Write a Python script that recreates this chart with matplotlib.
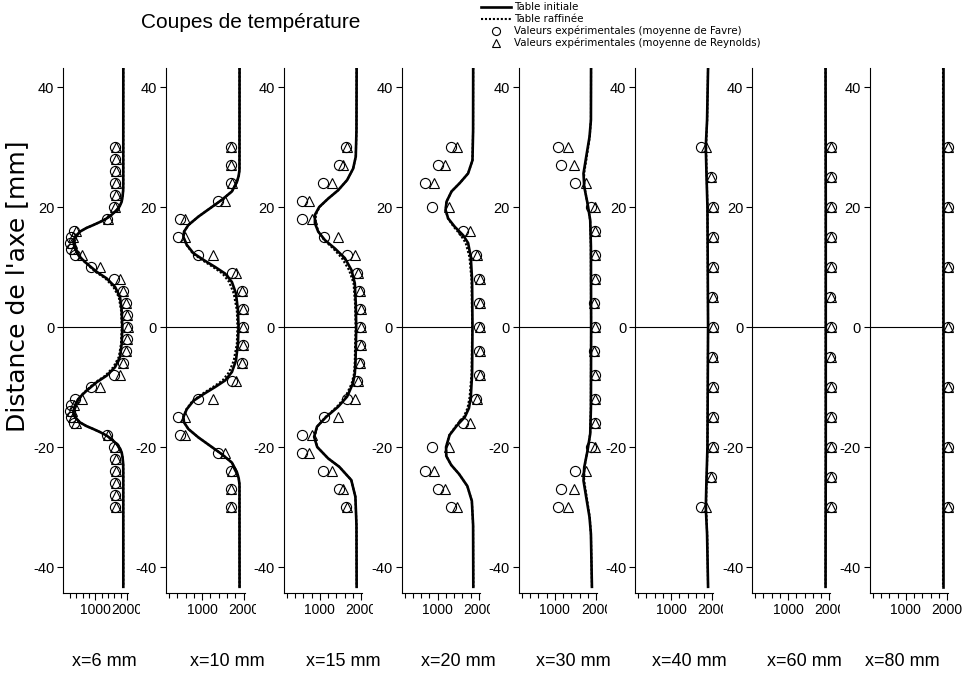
import matplotlib
matplotlib.use("Agg")
import matplotlib.pyplot as plt
from matplotlib.lines import Line2D
from matplotlib.transforms import Bbox, TransformedBbox

plt.rcParams['font.family'] = ['Liberation Sans', 'DejaVu Sans']
plt.rcParams['axes.unicode_minus'] = False

# ---------------------------------------------------------------------
# données (T en K, y en mm)
# ---------------------------------------------------------------------
PANEL_LABELS = ["x=6 mm", "x=10 mm", "x=15 mm", "x=20 mm",
                "x=30 mm", "x=40 mm", "x=60 mm", "x=80 mm"]

# x = 6 mm
Y1 = [43.2, 24.0, 22.8, 21.8, 20.9, 20.2, 19.5, 18.8, 18.1, 17.5, 17.0, 16.5, 15.9, 15.0, 14.2,
      13.1, 12.0, 11.3, 10.6, 9.9, 9.2, 8.1, 6.7, 5.0, 2.8, 0.0,
      -2.8, -5.0, -6.7, -8.1, -9.2, -9.9, -10.6, -11.3, -12.0, -13.1, -14.2, -15.0, -15.9,
      -16.5, -17.0, -17.5, -18.1, -18.8, -19.5, -20.2, -20.9, -21.8, -22.8, -24.0, -43.3]
T1_INIT = [1888, 1887, 1884, 1866, 1837, 1780, 1680, 1540, 1364, 1150, 941, 720, 521, 363, 310,
           363, 468, 590, 732, 890, 1048, 1364, 1626, 1784, 1837, 1857,
           1837, 1784, 1626, 1364, 1048, 890, 732, 590, 468, 363, 310, 363, 521,
           720, 941, 1150, 1364, 1540, 1680, 1780, 1837, 1866, 1884, 1887, 1888]
T1_RAFF = [1888, 1887, 1884, 1866, 1837, 1780, 1680, 1540, 1364, 1150, 941, 720, 521, 363, 310,
           363, 460, 575, 712, 860, 1010, 1320, 1570, 1745, 1815, 1840,
           1815, 1745, 1570, 1320, 1010, 860, 712, 575, 460, 363, 310, 363, 521,
           720, 941, 1150, 1364, 1540, 1680, 1780, 1837, 1866, 1884, 1887, 1888]

# x = 10 mm
Y2 = [43.2, 26.2, 25.2, 24.2, 22.6, 21.2, 19.8, 18.4, 17.0, 15.9, 15.0, 13.7, 12.3, 11.2, 10.0,
      8.9, 7.5, 5.6, 2.8, 0.0,
      -2.8, -5.6, -7.5, -8.9, -10.0, -11.2, -12.3, -13.7, -15.0, -15.9, -17.0, -18.4, -19.8,
      -21.2, -22.6, -24.2, -25.2, -26.2, -43.3]
T2_INIT = [1901, 1899, 1880, 1838, 1717, 1475, 1193, 910, 669, 565, 549, 630, 790, 1031, 1314,
           1555, 1717, 1814, 1862, 1876,
           1862, 1814, 1717, 1555, 1314, 1031, 790, 630, 549, 565, 669, 910, 1193,
           1475, 1717, 1838, 1880, 1899, 1901]
T2_RAFF = [1901, 1899, 1880, 1838, 1717, 1475, 1193, 910, 669, 565, 549, 620, 770, 990, 1260,
           1490, 1650, 1760, 1835, 1850,
           1835, 1760, 1650, 1490, 1260, 990, 770, 620, 549, 565, 669, 910, 1193,
           1475, 1717, 1838, 1880, 1899, 1901]

# x = 15 mm
Y3 = [43.2, 32.8, 28.4, 26.4, 24.5, 22.8, 21.4, 20.0, 18.7, 17.3, 15.9, 14.5, 13.1, 11.5, 9.5,
      7.3, 4.0, 0.0,
      -4.0, -6.0, -7.8, -9.4, -11.6, -13.3, -15.0, -16.6, -18.3, -20.0, -21.9, -23.3, -25.5,
      -28.3, -33.0, -43.3]
T3_INIT = [1890, 1886, 1869, 1805, 1660, 1442, 1200, 983, 879, 879, 959, 1120, 1362, 1603, 1765,
           1845, 1869, 1880,
           1869, 1862, 1845, 1800, 1660, 1440, 1150, 930, 860, 935, 1200, 1470, 1760,
           1860, 1886, 1890]
T3_RAFF = [1890, 1886, 1869, 1805, 1660, 1442, 1200, 990, 900, 900, 965, 1100, 1320, 1530, 1705,
           1815, 1850, 1865,
           1850, 1845, 1825, 1770, 1620, 1410, 1135, 935, 870, 935, 1200, 1470, 1760,
           1860, 1886, 1890]

# x = 20 mm
Y4 = [43.2, 32.8, 27.8, 25.6, 24.0, 22.6, 20.9, 19.5, 18.1, 16.7, 15.3, 14.0, 11.7, 7.8, 0.0,
      -7.8, -11.7, -13.5, -15.0, -16.4, -18.0, -20.0, -21.5, -23.0, -24.5, -26.5, -29.0,
      -33.0, -43.3]
T4_INIT = [1862, 1860, 1845, 1739, 1538, 1338, 1217, 1193, 1256, 1417, 1618, 1739, 1804, 1836, 1845,
           1836, 1804, 1760, 1660, 1470, 1290, 1205, 1210, 1330, 1520, 1720, 1830,
           1860, 1865]
T4_RAFF = [1862, 1860, 1845, 1739, 1538, 1338, 1217, 1193, 1250, 1390, 1560, 1680, 1770, 1822, 1838,
           1822, 1775, 1725, 1630, 1450, 1285, 1205, 1210, 1330, 1520, 1720, 1830,
           1860, 1865]

# x = 30 mm
Y5 = [43.2, 34.5, 31.7, 28.4, 25.6, 23.4, 20.6, 17.8, 13.4, 0.0,
      -13.4, -17.8, -20.6, -23.4, -25.6, -28.4, -31.7, -34.5, -43.3]
T5_INIT = [1872, 1869, 1835, 1756, 1690, 1707, 1787, 1852, 1869, 1874,
           1869, 1852, 1787, 1707, 1690, 1756, 1835, 1869, 1893]
T5_RAFF = [1872, 1869, 1840, 1770, 1705, 1712, 1787, 1850, 1866, 1872,
           1866, 1850, 1787, 1712, 1705, 1770, 1840, 1869, 1893]

# x = 40 mm
Y6 = [43.2, 34.5, 30.1, 25.6, 20.0, 0.0, -20.0, -25.6, -30.1, -34.5, -43.3]
T6_INIT = [1893, 1869, 1838, 1854, 1878, 1893, 1878, 1854, 1838, 1869, 1893]
T6_RAFF = [1893, 1872, 1845, 1858, 1880, 1893, 1880, 1858, 1845, 1872, 1893]

# x = 60 mm
Y7 = [43.2, 20.0, 0.0, -20.0, -43.3]
T7_INIT = [1905, 1910, 1910, 1910, 1905]
T7_RAFF = [1905, 1910, 1910, 1910, 1905]

# x = 80 mm
Y8 = [43.2, 0.0, -43.3]
T8_INIT = [1900, 1900, 1900]
T8_RAFF = [1900, 1900, 1900]

# valeurs expérimentales
EY1 = [30, 28, 26, 24, 22, 20, 18, 16, 15, 14, 13, 12, 10, 8, 6, 4, 2, 0,
       -2, -4, -6, -8, -10, -12, -13, -14, -15, -16, -18, -20, -22, -24, -26, -28, -30]
FAVRE1 = [1626, 1626, 1626, 1626, 1626, 1595, 1364, 330, 250, 200, 240, 363, 859, 1595, 1869, 1973, 2015, 2015,
          2015, 1973, 1869, 1595, 859, 363, 240, 200, 250, 330, 1364, 1595, 1626, 1626, 1626, 1626, 1626]
REYN1 = [1648, 1648, 1648, 1648, 1648, 1626, 1415, 380, 300, 268, 332, 575, 1152, 1784, 1888, 1973, 2015, 2027,
         2015, 1973, 1888, 1784, 1152, 575, 332, 268, 300, 380, 1415, 1626, 1648, 1648, 1648, 1648, 1648]

EY2 = [30, 27, 24, 21, 18, 15, 12, 9, 6, 3, 0, -3, -6, -9, -12, -15, -18, -21, -24, -27, -30]
FAVRE2 = [1693, 1693, 1693, 1393, 468, 427, 910, 1717, 1958, 1973, 1973,
          1973, 1958, 1717, 910, 427, 468, 1393, 1693, 1693, 1693]
REYN2 = [1700, 1700, 1710, 1555, 589, 589, 1258, 1821, 1966, 1982, 1982,
         1982, 1966, 1821, 1258, 589, 589, 1555, 1710, 1700, 1700]

EY3 = [30, 27, 24, 21, 18, 15, 12, 9, 6, 3, 0, -3, -6, -9, -12, -15, -18, -21, -24, -27, -30]
FAVRE3 = [1628, 1466, 1065, 558, 558, 1096, 1645, 1901, 1949, 1983, 1983,
          1983, 1949, 1901, 1645, 1096, 558, 558, 1065, 1466, 1628]
REYN3 = [1659, 1562, 1282, 741, 799, 1442, 1845, 1925, 1966, 2007, 1997,
         2007, 1966, 1925, 1845, 1442, 799, 741, 1282, 1562, 1659]

EY4 = [30, 27, 24, 20, 16, 12, 8, 4, 0, -4, -8, -12, -16, -20, -24, -27, -30]
FAVRE4 = [1314, 1000, 693, 855, 1618, 1942, 1997, 1997, 1997, 1997, 1997, 1942, 1618, 855, 693, 1000, 1314]
REYN4 = [1459, 1176, 917, 1273, 1797, 1966, 2021, 2021, 2021, 2021, 2021, 1966, 1797, 1273, 917, 1176, 1459]

EY5 = [30, 27, 24, 20, 16, 12, 8, 4, 0, -4, -8, -12, -16, -20, -24, -27, -30]
FAVRE5 = [1087, 1152, 1490, 1869, 1956, 1956, 1956, 1942, 1956, 1942, 1956, 1956, 1956, 1869, 1490, 1152, 1087]
REYN5 = [1328, 1466, 1756, 1966, 1966, 1966, 1966, 1949, 1966, 1949, 1966, 1966, 1966, 1966, 1756, 1466, 1328]

EY6 = [30, 25, 20, 15, 10, 5, 0, -5, -10, -15, -20, -25, -30]
FAVRE6 = [1717, 1958, 2014, 2014, 2014, 1999, 2014, 1999, 2014, 2014, 2014, 1958, 1717]
REYN6 = [1855, 1966, 2024, 2024, 2024, 2007, 2024, 2007, 2024, 2024, 2024, 1966, 1855]

EY7 = [30, 25, 20, 15, 10, 5, 0, -5, -10, -15, -20, -25, -30]
FAVRE7 = [2040, 2040, 2040, 2040, 2040, 2020, 2040, 2020, 2040, 2040, 2040, 2040, 2040]
REYN7 = [2048, 2048, 2048, 2048, 2048, 2028, 2048, 2028, 2048, 2048, 2048, 2048, 2048]

EY8 = [30, 20, 10, 0, -10, -20, -30]
FAVRE8 = [2015, 2015, 2015, 2015, 2015, 2015, 2015]
REYN8 = [2021, 2021, 2021, 2021, 2021, 2021, 2021]

PANELS = [
    (Y1, T1_INIT, T1_RAFF, EY1, FAVRE1, REYN1),
    (Y2, T2_INIT, T2_RAFF, EY2, FAVRE2, REYN2),
    (Y3, T3_INIT, T3_RAFF, EY3, FAVRE3, REYN3),
    (Y4, T4_INIT, T4_RAFF, EY4, FAVRE4, REYN4),
    (Y5, T5_INIT, T5_RAFF, EY5, FAVRE5, REYN5),
    (Y6, T6_INIT, T6_RAFF, EY6, FAVRE6, REYN6),
    (Y7, T7_INIT, T7_RAFF, EY7, FAVRE7, REYN7),
    (Y8, T8_INIT, T8_RAFF, EY8, FAVRE8, REYN8),
]

LEGEND_LABELS = ["Table initiale", "Table raffinée",
                 "Valeurs expérimentales (moyenne de Favre)",
                 "Valeurs expérimentales (moyenne de Reynolds)"]

# ---------------------------------------------------------------------
# mise en page (pixels de la figure 966 x 673)
# ---------------------------------------------------------------------
W, H = 966, 673
LEFTS = [63.5, 166, 284, 401.7, 518.7, 635.3, 752.3, 870]
WIDTHS = [64.3, 78.5, 78, 78, 78.5, 78, 78, 78]
CLIP_X = [140, 256, 373, 490, 607, 723, 840, 966]
LABEL_X = [104, 227, 343, 458, 573, 689, 804, 902]
AX_TOP, AX_BOT = 68, 593

fig = plt.figure(figsize=(W / 100, H / 100), dpi=100)

LW = 1.9
LW_DOT = 1.5
DOTS = (0, (1, 0.9))
MS = 7.3

for i, (y, t_init, t_raff, ey, favre, reyn) in enumerate(PANELS):
    ax = fig.add_axes([LEFTS[i] / W, 1 - AX_BOT / H, WIDTHS[i] / W, (AX_BOT - AX_TOP) / H])
    if i == 0:
        ax.set_xlim(0, 2030)
    else:
        ax.set_xlim(130, 2020)
    ax.set_ylim(-44.33, 43.17)

    x0 = ax.get_xlim()[0]
    ax.hlines(0, x0, t_init[y.index(0.0)], color="k", lw=0.8, zorder=1)

    ax.plot(t_raff, y, color="k", lw=LW_DOT, ls=DOTS, zorder=2)
    ax.plot(t_init, y, color="k", lw=LW, zorder=3)
    ax.plot(favre, ey, ls="none", marker="o", ms=MS, mfc="none", mec="k", mew=0.8,
            clip_on=False, zorder=4)
    ax.plot(reyn, ey, ls="none", marker="^", ms=MS, mfc="none", mec="k", mew=0.8,
            clip_on=False, zorder=4)

    for s in ("top", "right"):
        ax.spines[s].set_visible(False)
    for s in ("left", "bottom"):
        ax.spines[s].set_linewidth(0.8)

    ax.set_yticks([-40, -20, 0, 20, 40])
    ax.set_xticks([1000, 2000])
    ax.set_xticks([200, 400, 600, 800, 1200, 1400, 1600, 1800], minor=True)
    ax.tick_params(axis="y", length=4.5, width=0.8, pad=2, labelsize=10.5)
    ax.tick_params(axis="x", which="major", length=5, width=0.8, pad=2, labelsize=10)
    ax.tick_params(axis="x", which="minor", length=3.5, width=0.8)

    # les étiquettes débordantes sont coupées par le panneau suivant
    clip = TransformedBbox(Bbox([[0, 0], [CLIP_X[i] / W, 1]]), fig.transFigure)
    for lab in ax.get_xticklabels():
        lab.set_clip_on(True)
        lab.set_clip_box(clip)

    fig.text(LABEL_X[i] / W, 1 - 662 / H, PANEL_LABELS[i], ha="center", va="center", fontsize=13)

fig.text(251 / W, 1 - 23 / H, "Coupes de température", ha="center", va="center", fontsize=15)
fig.text(17 / W, 1 - 286 / H, "Distance de l'axe [mm]", rotation=90,
         ha="center", va="center", fontsize=18, family="DejaVu Sans")

# légende dessinée à la main
ROW_Y = [6.5, 18.5, 30.5, 42.5]
styles = [dict(color="k", lw=LW), dict(color="k", lw=LW_DOT, ls=DOTS)]
for k, lab in enumerate(LEGEND_LABELS):
    yy = 1 - ROW_Y[k] / H
    if k < 2:
        fig.add_artist(Line2D([481 / W, 511 / W], [yy, yy], transform=fig.transFigure, **styles[k]))
    else:
        fig.add_artist(Line2D([496 / W], [yy], transform=fig.transFigure, ls="none",
                              marker="o" if k == 2 else "^", ms=5.8, mfc="none", mec="k", mew=0.8))
    fig.text(514 / W, yy, lab, ha="left", va="center", fontsize=7.4, family="DejaVu Sans")

fig.savefig("out.png", dpi=100)
